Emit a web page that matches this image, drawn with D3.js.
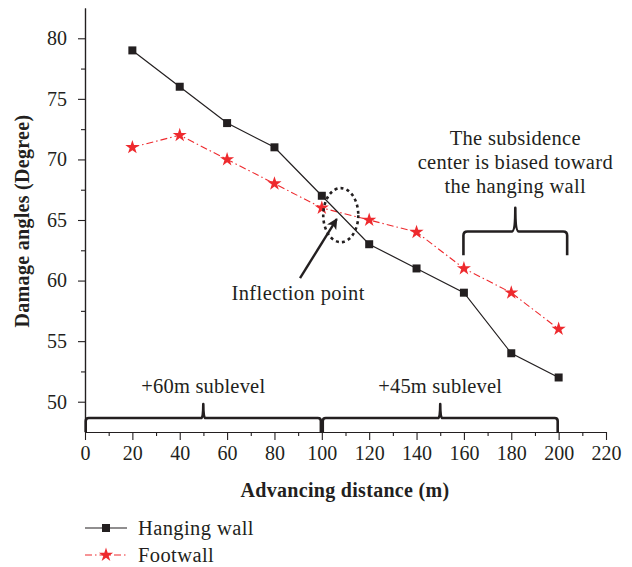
<!DOCTYPE html>
<html>
<head>
<meta charset="utf-8">
<script src="https://cdn.jsdelivr.net/npm/d3@7"></script>
<style>
  html, body { margin: 0; padding: 0; background: #fff; }
  svg { display: block; }
  text { font-family: "Liberation Serif", "Times New Roman", serif; fill: #231f20; }
</style>
</head>
<body>
<svg id="chart" width="632" height="567"></svg>
<script>
// Advancing distance (m)
const distance = [20, 40, 60, 80, 100, 120, 140, 160, 180, 200];
// Damage angles (degree) on each side of the working face
const hangingWall = [79, 76, 73, 71, 67, 63, 61, 59, 54, 52];
const footwall    = [71, 72, 70, 68, 66, 65, 64, 61, 59, 56];
const seriesNames = ["Hanging wall", "Footwall"];
const xTicks = [0, 20, 40, 60, 80, 100, 120, 140, 160, 180, 200, 220];
const yTicks = [50, 55, 60, 65, 70, 75, 80];
const sublevels = ["+60m sublevel", "+45m sublevel"];
const subsidenceNote = ["The subsidence", "center is biased toward", "the hanging wall"];

const ink = "#231f20";
const red = "#ee2a2e";

const svg = d3.select("#chart");
const plotLeft = 85, plotRight = 606, plotTop = 8, plotBottom = 432;

const x = d3.scaleLinear().domain([0, 220]).range([plotLeft, plotRight]);
const y = d3.scaleLinear().domain([47.5, 82.5]).range([plotBottom, plotTop]);

// ---- axes ----
const xAxis = svg.append("g").attr("transform", `translate(0,${plotBottom})`)
  .call(d3.axisBottom(x).tickValues(xTicks).tickSize(8).tickPadding(6).tickSizeOuter(0));
const xMinor = svg.append("g").attr("transform", `translate(0,${plotBottom})`)
  .call(d3.axisBottom(x).tickValues(d3.range(10, 220, 20)).tickSize(4).tickFormat("").tickSizeOuter(0));
const yAxis = svg.append("g").attr("transform", `translate(${plotLeft},0)`)
  .call(d3.axisLeft(y).tickValues(yTicks).tickSize(7).tickPadding(11).tickSizeOuter(0));
const yMinor = svg.append("g").attr("transform", `translate(${plotLeft},0)`)
  .call(d3.axisLeft(y).tickValues(d3.range(52.5, 82, 5)).tickSize(4).tickFormat("").tickSizeOuter(0));

[xAxis, xMinor, yAxis, yMinor].forEach(g => {
  g.selectAll("path.domain").attr("stroke", ink).attr("stroke-width", 1.2);
  g.selectAll(".tick line").attr("stroke", ink).attr("stroke-width", 1.1);
  g.selectAll(".tick text").style("font-family", '"Liberation Serif", serif')
    .attr("font-size", 20).attr("fill", ink);
});

// axis titles
svg.append("text")
  .attr("x", 345).attr("y", 497)
  .attr("text-anchor", "middle").attr("font-weight", "bold").attr("font-size", 20)
  .attr("letter-spacing", 0.3)
  .text("Advancing distance (m)");
svg.append("text")
  .attr("transform", `translate(29,221) rotate(-90)`)
  .attr("text-anchor", "middle").attr("font-weight", "bold").attr("font-size", 20)
  .attr("letter-spacing", 0.3)
  .text("Damage angles (Degree)");

// ---- series ----
const hwData = distance.map((d, i) => [d, hangingWall[i]]);
const fwData = distance.map((d, i) => [d, footwall[i]]);
const line = d3.line().x(d => x(d[0])).y(d => y(d[1]));

svg.append("path").datum(fwData).attr("d", line)
  .attr("fill", "none").attr("stroke", red).attr("stroke-width", 1.1)
  .attr("stroke-dasharray", "7,3,1.5,3");
svg.append("path").datum(hwData).attr("d", line)
  .attr("fill", "none").attr("stroke", ink).attr("stroke-width", 1.2);

const square = d3.symbol().type(d3.symbolSquare).size(64);
const star = d3.symbol().type(d3.symbolStar).size(62);

svg.append("g").selectAll("path").data(hwData).join("path")
  .attr("transform", d => `translate(${x(d[0])},${y(d[1])})`)
  .attr("d", square).attr("fill", ink);
svg.append("g").selectAll("path").data(fwData).join("path")
  .attr("transform", d => `translate(${x(d[0])},${y(d[1])})`)
  .attr("d", star).attr("fill", red);

// ---- curly braces ----
function brace(x1, x2, yBase, yBar, yPeak, r, rp) {
  const xm = (x1 + x2) / 2;
  const s = Math.sign(yBase - yBar);
  return `M${x1},${yBase} L${x1},${yBar + s * r} Q${x1},${yBar} ${x1 + r},${yBar}` +
    ` L${xm - rp},${yBar} Q${xm},${yBar} ${xm},${yPeak}` +
    ` Q${xm},${yBar} ${xm + rp},${yBar} L${x2 - r},${yBar}` +
    ` Q${x2},${yBar} ${x2},${yBar + s * r} L${x2},${yBase}`;
}
const braceStyle = g => g.attr("fill", "none").attr("stroke", ink)
  .attr("stroke-width", 2.6).attr("stroke-linejoin", "round");

// sublevel braces along the distance axis
const sublevelSpans = [[0.3, 99.6], [100.4, 199.6]];
sublevelSpans.forEach((s, i) => {
  svg.append("path")
    .attr("d", brace(x(s[0]), x(s[1]), y(47.5), y(48.65), y(49.8), 3, 2))
    .call(braceStyle);
  svg.append("text")
    .attr("x", x((s[0] + s[1]) / 2)).attr("y", y(50.7))
    .attr("text-anchor", "middle").attr("font-size", 20.5).attr("letter-spacing", 0.2)
    .text(sublevels[i]);
});

// subsidence-centre brace
svg.append("path")
  .attr("d", brace(x(159.8), x(203.6), y(62.1), y(64.05), y(66.0), 4, 3.5))
  .call(braceStyle);
const note = svg.append("text").attr("text-anchor", "middle")
  .attr("font-size", 20.5).attr("letter-spacing", 0.3);
subsidenceNote.forEach((t, i) => {
  note.append("tspan").attr("x", x(181.7)).attr("y", y(71.2) + i * 24).text(t);
});

// inflection point marker
const cx = 108, cy = 65.4;
svg.append("ellipse")
  .attr("cx", x(cx)).attr("cy", y(cy))
  .attr("rx", x(cx + 7.4) - x(cx)).attr("ry", y(cy) - y(cy + 2.23))
  .attr("fill", "none").attr("stroke", ink).attr("stroke-width", 2.6)
  .attr("stroke-dasharray", "3,3.2");

svg.append("defs").append("marker")
  .attr("id", "arrowhead").attr("viewBox", "0 0 10 10")
  .attr("refX", 9).attr("refY", 5).attr("markerWidth", 4.5).attr("markerHeight", 4.5)
  .attr("markerUnits", "strokeWidth").attr("orient", "auto")
  .append("path").attr("d", "M0,0 L10,5 L0,10 L2.5,5 Z").attr("fill", ink);

svg.append("line")
  .attr("x1", x(90.8)).attr("y1", y(60.2))
  .attr("x2", x(106.3)).attr("y2", y(65.08))
  .attr("stroke", ink).attr("stroke-width", 2.4)
  .attr("marker-end", "url(#arrowhead)");
svg.append("text")
  .attr("x", x(90)).attr("y", y(58.4))
  .attr("text-anchor", "middle").attr("font-size", 20.5).attr("letter-spacing", 0.4)
  .text("Inflection point");

// ---- legend ----
const legend = svg.append("g");
const legendRows = [
  { name: seriesNames[0], y: 528, color: ink, dash: null, symbol: square },
  { name: seriesNames[1], y: 555, color: red, dash: "7,3,1.5,3", symbol: star }
];
legendRows.forEach(r => {
  legend.append("line").attr("x1", 85).attr("x2", 127).attr("y1", r.y).attr("y2", r.y)
    .attr("stroke", r.color).attr("stroke-width", 1.2)
    .attr("stroke-dasharray", r.dash);
  legend.append("path").attr("transform", `translate(106,${r.y})`)
    .attr("d", r.symbol).attr("fill", r.color);
  legend.append("text").attr("x", 138).attr("y", r.y + 7)
    .attr("font-size", 20.5).attr("letter-spacing", 0.4).text(r.name);
});
</script>
</body>
</html>
